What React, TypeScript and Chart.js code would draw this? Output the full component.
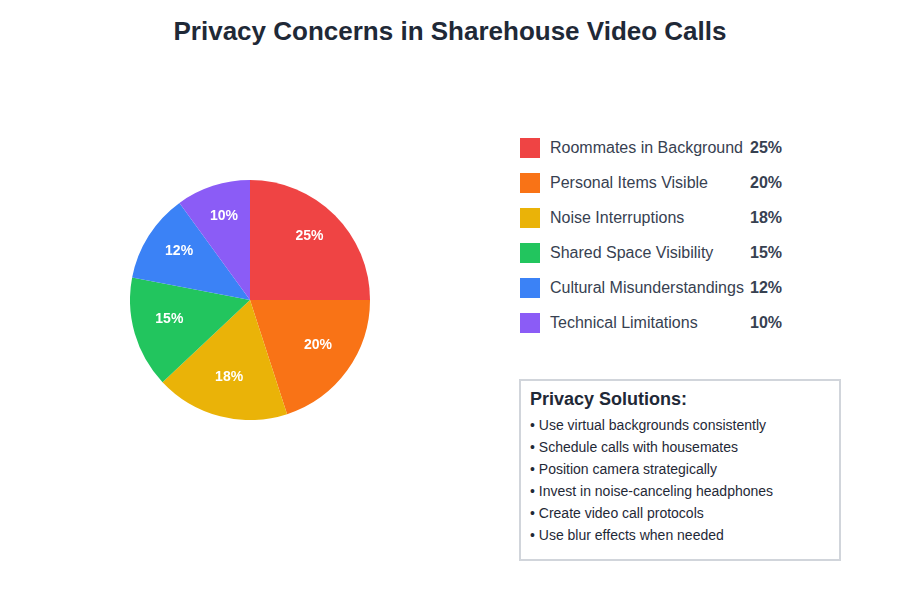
import React, { useEffect, useRef } from "react";
import { Chart, registerables } from "chart.js";

Chart.register(...registerables);

const categories = [
  "Roommates in Background",
  "Personal Items Visible",
  "Noise Interruptions",
  "Shared Space Visibility",
  "Cultural Misunderstandings",
  "Technical Limitations",
];
const values = [25, 20, 18, 15, 12, 10];
const colors = ["#ef4444", "#f97316", "#eab308", "#22c55e", "#3b82f6", "#8b5cf6"];
const solutions = [
  "Use virtual backgrounds consistently",
  "Schedule calls with housemates",
  "Position camera strategically",
  "Invest in noise-canceling headphones",
  "Create video call protocols",
  "Use blur effects when needed",
];

const FONT = '"Liberation Sans", Arial, Helvetica, sans-serif';

const sliceLabels = {
  id: "sliceLabels",
  afterDatasetsDraw(chart: any) {
    const ctx = chart.ctx;
    const meta = chart.getDatasetMeta(0);
    ctx.save();
    ctx.fillStyle = "#ffffff";
    ctx.font = `bold 14px ${FONT}`;
    ctx.textAlign = "center";
    ctx.textBaseline = "middle";
    meta.data.forEach((arc: any, i: number) => {
      const p = arc.getProps(["x", "y", "startAngle", "endAngle", "outerRadius"], true);
      const mid = (p.startAngle + p.endAngle) / 2;
      const r = p.outerRadius * 0.7;
      ctx.fillText(values[i] + "%", p.x + Math.cos(mid) * r, p.y - 4 + Math.sin(mid) * r);
    });
    ctx.restore();
  },
};

export default function App() {
  const ref = useRef<HTMLCanvasElement>(null);
  useEffect(() => {
    if (!ref.current) return;
    const chart = new Chart(ref.current, {
      type: "pie",
      data: {
        labels: categories,
        datasets: [
          {
            data: values,
            backgroundColor: colors,
            borderWidth: 0,
          },
        ],
      },
      options: {
        animation: false,
        responsive: true,
        maintainAspectRatio: false,
        layout: { padding: 0 },
        plugins: {
          legend: { display: false },
          tooltip: { enabled: false },
        },
      },
      plugins: [sliceLabels],
    });
    return () => chart.destroy();
  }, []);

  return (
    <div
      style={{
        position: "fixed",
        left: 0,
        top: 0,
        width: 900,
        height: 600,
        background: "#ffffff",
        fontFamily: FONT,
      }}
    >
      <div
        style={{
          position: "absolute",
          left: 0,
          top: 14,
          width: 900,
          textAlign: "center",
          fontSize: 26,
          fontWeight: "bold",
          color: "#1f2937",
          lineHeight: "34px",
        }}
      >
        Privacy Concerns in Sharehouse Video Calls
      </div>
      <div style={{ position: "absolute", left: 130, top: 180, width: 240, height: 240 }}>
        <canvas ref={ref} />
      </div>
      {categories.map((c, i) => (
        <div
          key={c}
          style={{
            position: "absolute",
            left: 520,
            top: 138 + i * 35,
            height: 20,
            width: 300,
          }}
        >
          <div
            style={{
              position: "absolute",
              left: 0,
              top: 0,
              width: 20,
              height: 20,
              background: colors[i],
            }}
          />
          <div
            style={{
              position: "absolute",
              left: 30,
              top: 0,
              lineHeight: "20px",
              fontSize: 16,
              color: "#374151",
              whiteSpace: "nowrap",
            }}
          >
            {c}
          </div>
          <div
            style={{
              position: "absolute",
              left: 230,
              top: 0,
              lineHeight: "20px",
              fontSize: 16,
              fontWeight: "bold",
              color: "#374151",
            }}
          >
            {values[i]}%
          </div>
        </div>
      ))}
      <div
        style={{
          position: "absolute",
          left: 519,
          top: 379,
          width: 318,
          height: 178,
          border: "2px solid #d1d5db",
          background: "#ffffff",
        }}
      >
        <div
          style={{
            position: "absolute",
            left: 9,
            top: 7,
            fontSize: 18,
            fontWeight: "bold",
            color: "#1f2937",
            lineHeight: "22px",
          }}
        >
          Privacy Solutions:
        </div>
        {solutions.map((s, i) => (
          <div
            key={s}
            style={{
              position: "absolute",
              left: 9,
              top: 34 + i * 22,
              fontSize: 14,
              color: "#1f2937",
              lineHeight: "20px",
              whiteSpace: "nowrap",
            }}
          >
            • {s}
          </div>
        ))}
      </div>
    </div>
  );
}
